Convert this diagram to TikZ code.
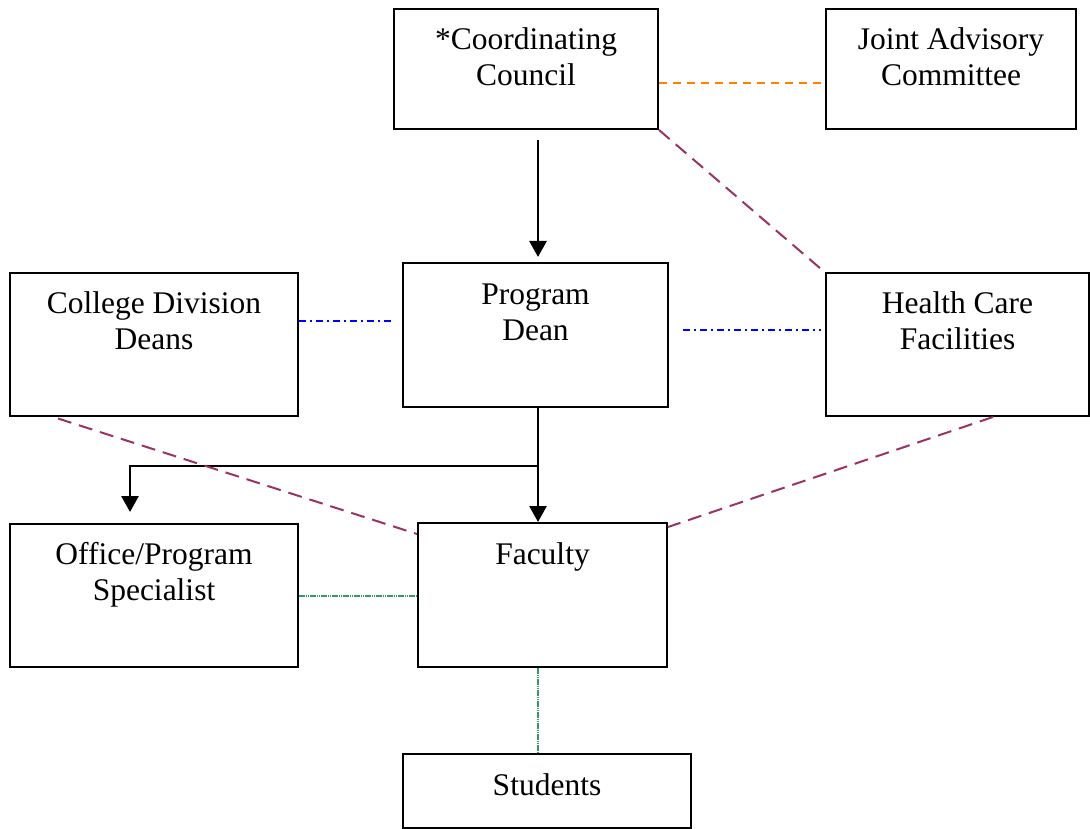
\documentclass[tikz,border=0pt]{standalone}
\usepackage{fontspec}
\setmainfont{Liberation Serif}
\usetikzlibrary{arrows.meta,calc}
\definecolor{orgline}{HTML}{FF8000}
\definecolor{purline}{HTML}{993366}
\definecolor{bluline}{HTML}{0000FF}
\definecolor{grnline}{HTML}{339966}
\begin{document}
\begin{tikzpicture}[x=1pt,y=-1pt,
  box/.style={draw=black,line width=2pt,inner sep=0pt,rectangle},
  lbl/.style={anchor=base,inner sep=0pt,font=\fontsize{31.5}{36}\selectfont},
  arr/.style={line width=2.8pt,-{Triangle[width=17pt,length=16pt]}},
  orgdash/.style={draw=orgline,line width=2pt,dash pattern=on 8pt off 6pt},
  purdash/.style={draw=purline,line width=2pt,dash pattern=on 14pt off 8pt},
  bludash/.style={draw=bluline,line width=2pt,dash pattern=on 7pt off 4pt on 2pt off 4pt},
  grndot/.style={draw=grnline,line width=2pt,dash pattern=on 1.6pt off 0.6pt}]
\useasboundingbox (0,0) rectangle (1090,829);
% boxes
\node[box,minimum width=264pt,minimum height=120pt] (cc) at (526,69) {};
\node[box,minimum width=250pt,minimum height=120pt] (jac) at (951,69) {};
\node[box,minimum width=288pt,minimum height=143pt] (cdd) at (154,344.5) {};
\node[box,minimum width=265pt,minimum height=144pt] (pd) at (535.5,335) {};
\node[box,minimum width=263pt,minimum height=143pt] (hcf) at (957.5,344.5) {};
\node[box,minimum width=288pt,minimum height=143pt] (ops) at (154,595.5) {};
\node[box,minimum width=249pt,minimum height=144pt] (fac) at (542.5,595) {};
\node[box,minimum width=288pt,minimum height=74pt] (stu) at (547,791) {};
% labels
\node[lbl] (cc1) at (526,50) {*Coordinating};
\node[lbl] (cc2) at (526,86) {Council};
\node[lbl] (jac1) at (951,50) {Joint Advisory};
\node[lbl] (jac2) at (951,86) {Committee};
\node[lbl] (cdd1) at (154,313) {College Division};
\node[lbl] (cdd2) at (154,349) {Deans};
\node[lbl] (pd1) at (535.5,304) {Program};
\node[lbl] (pd2) at (535.5,340) {Dean};
\node[lbl] (hcf1) at (957.5,313) {Health Care};
\node[lbl] (hcf2) at (957.5,349) {Facilities};
\node[lbl] (ops1) at (154,564) {Office/Program};
\node[lbl] (ops2) at (154,600) {Specialist};
\node[lbl] (fac1) at (542.5,564) {Faculty};
\node[lbl] (stu1) at (547,795) {Students};
% arrows
\draw[arr] ([xshift=12pt,yshift=-10pt]cc.south) -- ([xshift=2.5pt,yshift=5pt]pd.north);
\draw[arr] ([xshift=2.5pt]pd.south) -- ([xshift=-4.5pt]fac.north);
\coordinate (br) at (538,466);
\draw[arr] (br) -| ([xshift=-24pt,yshift=11pt]ops.north);
% relations
\draw[orgdash] ([yshift=-14pt]cc.east) -- ([xshift=-4pt,yshift=-14pt]jac.west);
\draw[purdash] (cc.south east) -- ([xshift=-4pt,yshift=3pt]hcf.north west);
\draw[bludash] ([yshift=23.5pt]cdd.east) -- ([xshift=-8pt,yshift=14pt]pd.west);
\draw[bludash] ([xshift=14pt,yshift=5pt]pd.east) -- ([xshift=-4pt,yshift=14.5pt]hcf.west);
\draw[purdash] ([xshift=-96pt,yshift=-1.5pt]cdd.south) -- ([yshift=-12pt]fac.north west);
\draw[purdash] ([xshift=35.5pt]hcf.south) -- ([yshift=-5pt]fac.north east);
\draw[grndot] ([yshift=-0.5pt]ops.east) -- ([yshift=-0.5pt]ops.east -| fac.west);
\draw[grndot] ([xshift=-4.5pt]fac.south) -- ([xshift=-9pt]stu.north);
\end{tikzpicture}
\end{document}
